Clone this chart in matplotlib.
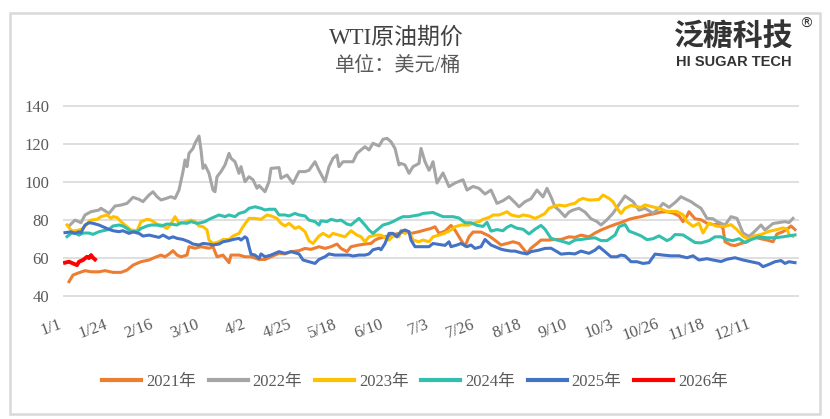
import matplotlib
matplotlib.use('Agg')
import matplotlib.pyplot as plt
import matplotlib.transforms as mtransforms
from matplotlib.patches import Rectangle

# WTI crude futures price by calendar day of year (0 = 1/1), USD/bbl
days_2021 = [2, 4, 7, 10, 13, 17, 20, 24, 28, 31, 34, 38, 42, 45, 48, 50, 52, 54, 56, 58,
             61, 62, 65, 68, 72, 74, 76, 79, 82, 83, 87, 90, 93, 97, 100, 103, 107, 110, 113, 117,
             120, 123, 127, 130, 133, 136, 138, 141, 143, 147, 150, 153, 155, 157, 160, 163, 167, 170, 173, 177,
             180, 183, 185, 187, 190, 193, 195, 198, 200, 202, 204, 208, 212, 216, 218, 221, 224, 227, 229, 231,
             233, 236, 238, 242, 245, 248, 252, 255, 258, 262, 265, 268, 272, 275, 278, 282, 285, 288, 291, 294,
             298, 301, 304, 307, 309, 311, 312, 315, 318, 321, 324, 327, 329, 330, 333, 335, 338, 341, 344, 347,
             351, 354, 356, 359, 362, 363, 365]
price_2021 = [47.4, 50.9, 52.1, 53.2, 52.6, 52.6, 53.2, 52.3, 52.3, 53.5, 56.1, 57.9, 58.8, 60.2, 61.4, 60.5, 61.9, 63.7, 61.4, 60.5,
              61.4, 65.8, 65.0, 65.8, 65.0, 65.8, 60.5, 61.4, 57.4, 61.4, 61.4, 60.5, 60.5, 59.1, 59.1, 60.5, 62.3, 62.0, 63.2, 63.7,
              64.9, 64.4, 65.8, 64.9, 65.8, 67.2, 64.9, 63.2, 65.8, 66.7, 67.2, 67.5, 69.3, 70.2, 71.0, 71.9, 72.8, 73.7, 72.8, 73.7,
              74.6, 75.4, 76.3, 72.8, 74.0, 77.0, 74.5, 69.3, 66.1, 71.0, 73.5, 73.5, 71.5, 68.4, 66.7, 67.5, 68.4, 67.5, 64.9, 62.3,
              65.0, 67.5, 69.3, 69.3, 69.6, 69.6, 71.0, 70.7, 71.9, 71.0, 73.0, 74.6, 76.3, 77.5, 78.5, 80.2, 81.0, 81.6, 82.5, 83.0,
              84.0, 84.2, 83.5, 82.0, 79.0, 82.0, 84.2, 80.5, 80.0, 78.1, 77.5, 77.5, 75.4, 68.4, 66.7, 66.4, 67.5, 68.4, 71.0, 70.2,
              69.3, 68.4, 72.5, 73.7, 75.8, 76.7, 74.8]

days_2022 = [2, 5, 8, 10, 13, 17, 18, 22, 25, 28, 31, 34, 37, 39, 42, 44, 46, 48, 50, 53,
             55, 57, 59, 60, 61, 62, 64, 65, 67, 68, 69, 70, 72, 74, 75, 76, 78, 80, 82, 83,
             85, 87, 88, 90, 92, 94, 96, 97, 100, 102, 103, 107, 108, 111, 114, 117, 120, 122, 125, 127,
             130, 132, 134, 136, 137, 139, 144, 146, 148, 150, 152, 154, 157, 159, 161, 163, 165, 167, 168, 170,
             172, 174, 177, 178, 180, 182, 183, 184, 186, 189, 192, 195, 199, 201, 204, 207, 210, 213, 216, 219,
             222, 225, 227, 230, 233, 236, 239, 241, 243, 245, 247, 250, 252, 254, 257, 260, 263, 266, 268, 271,
             274, 277, 280, 282, 284, 287, 290, 294, 297, 299, 302, 305, 308, 310, 313, 315, 318, 321, 324, 326,
             330, 333, 336, 339, 342, 344, 348, 350, 354, 357, 360, 362, 364]
price_2022 = [76.7, 79.8, 78.4, 82.5, 84.2, 85.1, 86.0, 83.3, 87.2, 87.7, 88.6, 91.8, 90.7, 89.5, 93.0, 94.7, 92.1, 90.4, 91.0, 92.1,
              91.2, 95.6, 105.3, 111.4, 107.9, 114.9, 117.5, 120.2, 124.0, 116.7, 107.0, 108.8, 104.4, 95.6, 94.7, 102.6, 105.3, 108.8, 114.9, 112.3,
              110.5, 104.4, 107.9, 100.0, 102.6, 101.0, 96.5, 98.0, 94.7, 100.0, 107.0, 107.4, 101.8, 103.5, 99.1, 105.3, 105.3, 106.0, 110.5, 106.0,
              100.0, 107.9, 112.3, 114.0, 107.9, 110.5, 110.5, 114.9, 116.7, 118.4, 116.7, 120.2, 118.8, 122.3, 122.8, 121.0, 117.5, 108.8, 109.6, 108.8,
              104.4, 107.9, 109.6, 117.5, 110.5, 106.0, 107.9, 110.5, 99.3, 104.6, 97.4, 99.3, 101.0, 95.6, 97.5, 96.5, 93.5, 95.6, 88.6, 90.0,
              92.1, 89.0, 86.8, 89.5, 91.0, 95.6, 92.0, 96.5, 92.0, 86.8, 85.0, 81.6, 84.0, 85.1, 86.0, 84.0, 80.5, 79.0, 77.2, 80.0,
              83.4, 88.0, 92.5, 91.0, 89.5, 85.0, 86.0, 83.4, 86.0, 88.6, 86.5, 89.0, 92.1, 91.0, 89.5, 88.0, 86.0, 80.7, 80.5, 79.0,
              77.2, 81.6, 80.7, 73.0, 71.2, 73.0, 77.2, 74.6, 78.0, 78.5, 79.0, 78.5, 80.7]

days_2023 = [1, 3, 4, 7, 9, 12, 13, 16, 18, 21, 23, 24, 26, 28, 31, 33, 36, 38, 41, 43,
             46, 48, 51, 53, 55, 57, 59, 62, 63, 65, 67, 69, 71, 72, 74, 77, 79, 82, 84, 87,
             89, 92, 95, 98, 101, 103, 106, 108, 110, 112, 115, 117, 120, 122, 124, 127, 129, 132, 134, 137,
             140, 143, 146, 148, 150, 152, 155, 158, 162, 164, 167, 168, 170, 172, 174, 177, 179, 182, 184, 187,
             190, 193, 195, 198, 202, 204, 207, 209, 212, 214, 217, 219, 221, 223, 227, 229, 232, 235, 237, 240,
             242, 245, 247, 250, 253, 255, 257, 259, 262, 264, 267, 269, 272, 274, 276, 278, 280, 283, 285, 288,
             290, 293, 297, 301, 306, 309, 311, 314, 317, 319, 322, 326, 330, 333, 336, 339, 342, 344, 348, 352,
             356, 359, 361, 362, 364]
price_2023 = [77.2, 74.6, 74.0, 74.6, 75.4, 79.0, 79.8, 80.2, 81.6, 82.5, 80.7, 81.6, 81.2, 79.0, 76.3, 74.6, 74.2, 79.0, 80.2, 79.8,
              77.7, 77.2, 75.4, 77.7, 81.6, 78.1, 78.4, 79.5, 79.8, 79.0, 76.7, 76.3, 74.6, 69.3, 67.5, 68.4, 69.6, 69.6, 71.4, 72.8,
              76.3, 80.7, 80.7, 80.2, 82.5, 82.0, 80.7, 78.1, 76.7, 78.1, 75.4, 76.3, 73.7, 68.9, 67.5, 71.4, 72.8, 71.0, 72.8, 71.9,
              71.0, 74.2, 71.9, 71.0, 68.4, 71.0, 71.9, 71.9, 69.3, 71.4, 71.0, 74.5, 72.8, 73.7, 69.3, 68.4, 69.3, 68.4, 71.0, 71.9,
              73.0, 74.6, 76.3, 77.2, 77.2, 78.1, 79.0, 80.2, 81.2, 82.5, 82.5, 83.3, 84.2, 82.5, 81.6, 82.5, 82.0, 80.7, 81.6, 83.3,
              86.0, 87.2, 87.7, 87.2, 88.2, 88.6, 90.4, 91.2, 90.4, 90.4, 90.7, 93.0, 91.2, 89.5, 86.0, 83.3, 86.0, 87.5, 87.0, 86.5,
              87.8, 87.0, 86.0, 84.3, 84.3, 82.6, 79.0, 76.5, 78.2, 73.0, 78.2, 76.5, 76.5, 77.4, 74.8, 71.3, 69.6, 71.3, 72.2, 73.9,
              74.8, 75.7, 75.0, 72.2, 71.3]

days_2024 = [1, 3, 5, 7, 9, 12, 14, 17, 19, 22, 24, 27, 29, 31, 33, 36, 38, 41, 43, 46,
             48, 51, 53, 56, 58, 61, 63, 66, 68, 70, 72, 75, 77, 80, 82, 85, 87, 90, 92, 95,
             98, 100, 102, 105, 107, 110, 112, 115, 117, 120, 122, 125, 127, 128, 131, 133, 136, 138, 141, 143,
             145, 147, 150, 152, 154, 157, 159, 162, 164, 167, 169, 172, 174, 177, 179, 182, 184, 187, 189, 191,
             194, 197, 200, 203, 206, 209, 211, 213, 216, 219, 221, 223, 226, 229, 232, 235, 238, 240, 243, 246,
             249, 252, 255, 258, 262, 265, 268, 271, 275, 277, 280, 282, 285, 288, 291, 294, 297, 301, 303, 305,
             309, 312, 315, 318, 322, 325, 328, 331, 334, 337, 340, 343, 347, 351, 355, 359, 362, 365]
price_2024 = [71.1, 72.8, 73.0, 71.9, 73.0, 73.0, 72.3, 73.7, 74.2, 74.9, 76.7, 77.2, 76.7, 75.4, 73.7, 73.7, 75.4, 76.7, 77.2, 77.2,
              76.7, 77.7, 77.7, 77.2, 78.4, 78.1, 79.0, 78.1, 78.4, 79.0, 80.2, 81.6, 82.5, 81.6, 82.5, 81.6, 83.3, 84.2, 86.0, 86.8,
              86.0, 85.1, 85.5, 85.5, 82.5, 82.5, 82.0, 83.3, 82.5, 82.0, 79.8, 79.0, 77.2, 79.4, 79.0, 80.2, 79.4, 79.8, 77.7, 77.2,
              79.0, 80.7, 77.2, 74.6, 72.8, 75.4, 77.2, 78.1, 79.0, 80.7, 81.6, 81.6, 82.0, 82.5, 83.3, 83.6, 83.8, 82.5, 81.6, 81.6,
              81.6, 80.9, 78.4, 78.4, 77.0, 76.5, 78.6, 74.0, 74.8, 74.2, 76.0, 77.0, 75.5, 75.0, 72.5, 75.0, 77.0, 75.0, 70.2, 69.3,
              68.5, 67.5, 69.3, 69.6, 70.2, 70.5, 69.0, 69.0, 71.9, 76.3, 77.5, 74.0, 72.8, 71.5, 69.5, 70.0, 71.5, 69.0, 70.0, 72.2,
              72.0, 70.0, 68.0, 67.8, 69.0, 71.0, 71.0, 69.5, 69.0, 70.0, 68.0, 69.5, 71.0, 70.5, 70.5, 71.0, 71.5, 72.0]

days_2025 = [0, 3, 5, 7, 8, 10, 12, 14, 17, 19, 22, 24, 27, 29, 32, 34, 37, 39, 42, 44,
             47, 49, 52, 54, 56, 59, 62, 64, 67, 69, 72, 74, 77, 79, 82, 84, 87, 88, 90, 91,
             92, 93, 95, 97, 98, 100, 103, 107, 110, 113, 117, 119, 122, 125, 127, 130, 132, 135, 138, 142,
             144, 147, 150, 152, 154, 157, 158, 160, 162, 164, 166, 168, 170, 172, 173, 175, 178, 182, 184, 187,
             190, 192, 193, 196, 198, 201, 203, 205, 208, 210, 213, 215, 218, 220, 223, 225, 228, 231, 233, 237,
             240, 243, 246, 248, 252, 255, 258, 262, 265, 267, 270, 273, 276, 278, 280, 283, 286, 289, 292, 295,
             299, 303, 307, 311, 314, 317, 321, 324, 328, 331, 335, 339, 343, 347, 349, 352, 355, 358, 360, 362,
             365]
price_2025 = [73.2, 73.6, 72.8, 73.6, 73.2, 77.2, 78.4, 78.1, 77.2, 76.3, 74.9, 74.2, 73.7, 74.2, 72.8, 73.6, 72.8, 71.4, 71.9, 71.4,
              70.7, 71.9, 70.2, 71.0, 70.2, 69.6, 68.4, 67.2, 66.7, 67.5, 67.2, 66.7, 67.2, 68.4, 69.0, 69.6, 70.2, 69.3, 71.0, 70.2,
              65.8, 61.9, 61.4, 59.6, 62.0, 60.5, 61.4, 63.2, 62.3, 63.2, 62.0, 58.8, 57.9, 57.0, 59.1, 60.5, 62.0, 61.4, 61.4, 61.4,
              60.9, 61.4, 61.4, 62.0, 64.2, 65.0, 64.2, 67.5, 72.8, 72.8, 71.0, 73.7, 74.6, 73.7, 69.3, 65.8, 65.8, 65.8, 67.5, 67.0,
              66.5, 68.4, 65.8, 66.7, 67.5, 65.8, 66.7, 64.9, 65.8, 69.6, 66.7, 65.8, 64.5, 64.0, 63.5, 63.5, 62.6, 62.0, 63.2, 64.0,
              64.9, 65.0, 63.2, 61.9, 62.3, 62.0, 63.5, 62.3, 64.0, 65.8, 63.2, 60.5, 60.5, 61.4, 61.0, 57.9, 57.9, 57.0, 57.4, 61.9,
              61.4, 61.0, 61.0, 60.0, 61.0, 58.8, 59.5, 58.8, 58.0, 59.2, 60.0, 58.8, 57.9, 57.0, 55.3, 56.5, 57.9, 58.5, 57.0, 57.9,
              57.4]

days_2026 = [0, 2, 4, 6, 7, 9, 11, 12, 13, 14, 15]
price_2026 = [57.4, 57.9, 57.0, 56.1, 57.9, 58.8, 60.5, 59.8, 61.4, 60.0, 59.1]

years = ['2021年', '2022年', '2023年', '2024年', '2025年', '2026年']
colors = ['#ED7D31', '#A5A5A5', '#FFC000', '#33BFAE', '#4472C4', '#FF0000']

tick_days = list(range(0, 346, 23))
tick_labels = ['1/1', '1/24', '2/16', '3/10', '4/2', '4/25', '5/18', '6/10',
               '7/3', '7/26', '8/18', '9/10', '10/3', '10/26', '11/18', '12/11']

serif_cjk = ['Liberation Serif', 'Noto Sans CJK SC']
txt_col = '#595959'

W, H = 830, 419
fig = plt.figure(figsize=(W / 100, H / 100), dpi=100)

# outer chart frame
fig.patches.append(Rectangle((10 / W, 5 / H), 810 / W, 401 / H, transform=fig.transFigure,
                             fill=False, edgecolor='#D9D9D9', linewidth=1.8))

# plot area: x 63..799 px, y 140 at 105.7 px, 40 at 295.7 px
ax = fig.add_axes([63 / W, (H - 296.7) / H, 736 / W, 192 / H])
ax.set_xlim(-1, 367)
ax.set_ylim(39.5, 140.5)

all_days = [days_2021, days_2022, days_2023, days_2024, days_2025, days_2026]
all_price = [price_2021, price_2022, price_2023, price_2024, price_2025, price_2026]
for i in range(6):
    lw = 2.8 if i == 5 else 2.2
    ax.plot(all_days[i], all_price[i], color=colors[i], lw=lw, label=years[i],
            solid_joinstyle='round', zorder=3 + (i == 5))

ax.set_yticks(range(40, 141, 20))
ax.grid(axis='y', color='#D9D9D9', lw=1.2)
ax.set_axisbelow(True)
for s in ax.spines.values():
    s.set_visible(False)
ax.tick_params(length=0, colors=txt_col)
ax.tick_params(axis='y', pad=10)
ax.set_xticks(tick_days)
ax.set_xticklabels(tick_labels, rotation=20, ha='right', va='top', rotation_mode='anchor')
ax.tick_params(axis='x', pad=14)
shift = mtransforms.ScaledTranslation(-7 / 100, 0, fig.dpi_scale_trans)
for lab in ax.get_xticklabels():
    lab.set_transform(lab.get_transform() + shift)
for lab in ax.get_xticklabels() + ax.get_yticklabels():
    lab.set_family(serif_cjk)
    lab.set_fontsize(12)
    lab.set_color(txt_col)

leg = fig.legend(loc='center', bbox_to_anchor=(0.5, (H - 382) / H), ncol=6, frameon=False,
                 handlelength=2.35, handletextpad=0.3, columnspacing=0.75,
                 prop={'family': serif_cjk, 'size': 12})
for t in leg.get_texts():
    t.set_color(txt_col)
for h in leg.get_lines():
    h.set_linewidth(3)

# titles
fig.text(396 / W, 1 - 38 / H, 'WTI原油期价', ha='center', va='center',
         family=serif_cjk, fontsize=16.5, color='#404040')
fig.text(398 / W, 1 - 66 / H, '单位：美元/桶', ha='center', va='center',
         family=serif_cjk, fontsize=14.5, color=txt_col)

# logo
fig.text(734 / W, 1 - 36 / H, '泛糖科技', ha='center', va='center',
         family=['Noto Sans CJK SC'], fontsize=21.5, fontweight='semibold', color='#333333')
fig.text(734 / W, 1 - 62 / H, 'HI SUGAR TECH', ha='center', va='center',
         family=['Liberation Sans'], fontsize=10.5, fontweight='bold', color='#333333')
fig.text(806 / W, 1 - 24 / H, '®', ha='center', va='center',
         family=['DejaVu Sans'], fontsize=10, color='#333333')

fig.savefig('out.png', dpi=100)
